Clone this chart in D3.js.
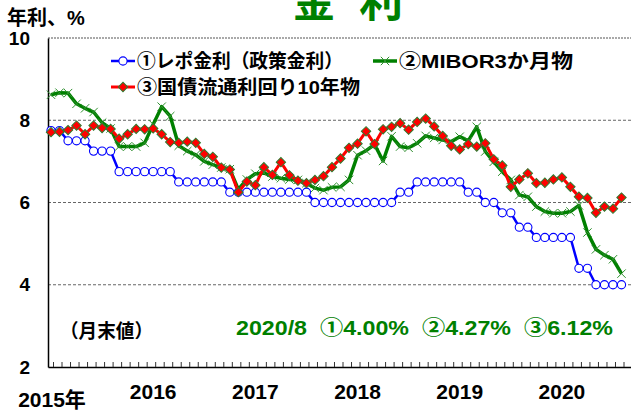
<!DOCTYPE html>
<html><head><meta charset="utf-8">
<script src="https://cdn.jsdelivr.net/npm/d3@7"></script>
<style>
html,body{margin:0;padding:0;background:#fff;overflow:hidden}
svg{display:block}
text{font-family:"Liberation Sans","Noto Sans CJK JP",sans-serif;font-weight:bold}
</style></head>
<body>
<script>
// ---- data ----
const years = ["2015年","2016","2017","2018","2019","2020"];
const yTicks = [2,4,6,8,10];
const months = d3.range(68).map(i => `${2015 + Math.floor(i/12)}/${i%12+1}`);
const repo = [7.75,7.75,7.50,7.50,7.50,7.25,7.25,7.25,6.75,6.75,6.75,6.75,
6.75,6.75,6.75,6.50,6.50,6.50,6.50,6.50,6.50,6.25,6.25,6.25,
6.25,6.25,6.25,6.25,6.25,6.25,6.25,6.00,6.00,6.00,6.00,6.00,
6.00,6.00,6.00,6.00,6.00,6.25,6.25,6.50,6.50,6.50,6.50,6.50,
6.50,6.25,6.25,6.00,6.00,5.75,5.75,5.40,5.40,5.15,5.15,5.15,
5.15,5.15,4.40,4.40,4.00,4.00,4.00,4.00];
const mibor = [8.62,8.67,8.66,8.40,8.29,8.20,7.94,7.80,7.36,7.36,7.36,7.45,
7.90,8.33,8.10,7.38,7.25,7.16,7.00,6.92,6.85,6.81,6.32,6.56,
6.70,6.72,6.63,6.59,6.56,6.55,6.47,6.35,6.30,6.37,6.38,6.55,
7.15,7.26,7.41,7.01,7.61,7.36,7.33,7.44,7.62,7.57,7.52,7.48,
7.60,7.50,7.84,7.24,6.99,6.75,6.55,6.18,6.14,5.90,5.78,5.74,
5.74,5.78,5.93,5.27,4.86,4.72,4.62,4.27];
const gsec = [7.71,7.72,7.76,7.87,7.66,7.87,7.81,7.79,7.55,7.66,7.79,7.78,
7.80,7.66,7.47,7.45,7.48,7.45,7.18,7.11,6.85,6.80,6.25,6.51,
6.42,6.86,6.67,6.98,6.66,6.53,6.47,6.55,6.64,6.86,7.07,7.33,
7.43,7.73,7.42,7.78,7.84,7.93,7.77,7.96,8.04,7.85,7.62,7.38,
7.29,7.42,7.36,7.44,7.05,6.90,6.38,6.56,6.71,6.47,6.48,6.56,
6.61,6.38,6.14,6.11,5.75,5.90,5.85,6.12];
const legendLabels = ["①レポ金利（政策金利）","②MIBOR3か月物","③国債流通利回り10年物"];
const noteLeft = "（月末値）";
const noteRight = "2020/8  ①4.00%  ②4.27%  ③6.12%";

// ---- layout ----
const W = 631, H = 412;
const svg = d3.select("body").append("svg").attr("width", W).attr("height", H);
const x = d3.scaleLinear().domain([0, months.length - 1]).range([51, 621.5]);
const y = d3.scaleLinear().domain([2, 10]).range([367, 38]);
const left = 48, right = 631;
const GREEN = "#008000";

// gridlines
svg.append("g").selectAll("line").data([4,6,8]).join("line")
  .attr("x1", left).attr("x2", right).attr("y1", d => y(d)).attr("y2", d => y(d))
  .attr("stroke", "#666").attr("stroke-width", 1).attr("stroke-dasharray", "3,2");
// top border dotted
svg.append("line").attr("x1", left).attr("x2", right).attr("y1", y(10)).attr("y2", y(10))
  .attr("stroke", "#555").attr("stroke-width", 1.2).attr("stroke-dasharray", "2,1");

// y axis
const yAxis = svg.append("g").attr("transform", `translate(${left},0)`)
  .call(d3.axisLeft(y).tickValues(yTicks).tickSize(0).tickPadding(18));
yAxis.select(".domain").attr("stroke", "#000").attr("stroke-width", 1.5);
yAxis.selectAll("text").attr("font-size", 19).attr("fill", "#000")
  .style("font-family", '"Liberation Sans",sans-serif').style("font-weight", "bold");

// x axis (monthly minor ticks)
const xAxis = svg.append("g").attr("transform", `translate(0,${y(2)})`)
  .call(d3.axisBottom(d3.scaleLinear().domain([0,1]).range([left, right])).tickValues([]).tickSizeOuter(0));
xAxis.select(".domain").attr("stroke", "#000").attr("stroke-width", 1.5);
svg.append("g").selectAll("line").data(months).join("line")
  .attr("x1", (d,i) => x(i) + 2.5).attr("x2", (d,i) => x(i) + 2.5)
  .attr("y1", y(2)).attr("y2", y(2) - 5).attr("stroke", "#333").attr("stroke-width", 1);

// year labels
svg.append("g").selectAll("text").data(years).join("text")
  .attr("x", (d,i) => x(i*12) + (i === 0 ? 1 : 0))
  .attr("y", (d,i) => i === 0 ? 407 : 399)
  .attr("text-anchor", "middle").attr("font-size", 21).attr("fill", "#000").text(d => d);

// unit label
svg.append("text").attr("x", 7).attr("y", 25).attr("font-size", 20).attr("fill", "#000").text("年利、%");

// title
svg.append("text").attr("x", 314).attr("y", 17).attr("text-anchor", "middle")
  .attr("font-size", 44).attr("fill", GREEN).style("font-family", '"Noto Sans CJK JP"').text("金");
svg.append("text").attr("x", 381).attr("y", 17).attr("text-anchor", "middle")
  .attr("font-size", 44).attr("fill", GREEN).style("font-family", '"Noto Sans CJK JP"').text("利");

// ---- series ----
const line = d3.line().x((d,i) => x(i)).y(d => y(d));

// repo (blue)
svg.append("path").datum(repo).attr("d", line).attr("fill", "none")
  .attr("stroke", "#0000ff").attr("stroke-width", 2.5);
svg.append("g").selectAll("circle").data(repo).join("circle")
  .attr("cx", (d,i) => x(i)).attr("cy", d => y(d)).attr("r", 4.1)
  .attr("fill", "#fff").attr("stroke", "#0000ff").attr("stroke-width", 1.1);

// mibor (green)
svg.append("path").datum(mibor).attr("d", line).attr("fill", "none")
  .attr("stroke", GREEN).attr("stroke-width", 3.5).attr("stroke-linejoin", "round");
const xMark = (cx, cy, s) => `M${cx-s},${cy-s}L${cx+s},${cy+s}M${cx-s},${cy+s}L${cx+s},${cy-s}`;
svg.append("g").selectAll("path").data(mibor).join("path")
  .attr("d", (d,i) => xMark(x(i), y(d), 4.2))
  .attr("stroke", "#2f8f2f").attr("stroke-width", 1).attr("fill", "none");

// gsec (red)
svg.append("path").datum(gsec).attr("d", line).attr("fill", "none")
  .attr("stroke", "#ff0000").attr("stroke-width", 3);
svg.append("g").selectAll("path").data(gsec).join("path")
  .attr("d", d3.symbol().type(d3.symbolSquare).size(44)())
  .attr("transform", (d,i) => `translate(${x(i)},${y(d)}) rotate(45)`)
  .attr("fill", "#ff0000").attr("stroke", "#2e7d32").attr("stroke-width", 1);

// ---- legend ----
const lg = svg.append("g");
// row 1 blue
lg.append("line").attr("x1", 111).attr("x2", 135).attr("y1", 61).attr("y2", 61).attr("stroke", "#0000ff").attr("stroke-width", 2.5);
lg.append("circle").attr("cx", 123).attr("cy", 61).attr("r", 4.1).attr("fill", "#fff").attr("stroke", "#0000ff").attr("stroke-width", 1.1);
lg.append("text").attr("x", 137).attr("y", 68).attr("font-size", 19).attr("fill", "#000")
  .attr("textLength", 206).attr("lengthAdjust", "spacingAndGlyphs").text(legendLabels[0]);
// row 1 green
lg.append("line").attr("x1", 373).attr("x2", 397).attr("y1", 61).attr("y2", 61).attr("stroke", GREEN).attr("stroke-width", 3.5);
lg.append("path").attr("d", xMark(385, 61, 4.2)).attr("stroke", "#2f8f2f").attr("stroke-width", 1);
lg.append("text").attr("x", 399).attr("y", 68).attr("font-size", 19).attr("fill", "#000")
  .attr("textLength", 174).attr("lengthAdjust", "spacingAndGlyphs").text(legendLabels[1]);
// row 2 red
lg.append("line").attr("x1", 111).attr("x2", 135).attr("y1", 87).attr("y2", 87).attr("stroke", "#ff0000").attr("stroke-width", 3);
lg.append("path").attr("d", d3.symbol().type(d3.symbolSquare).size(44)()).attr("transform", "translate(123,87) rotate(45)")
  .attr("fill", "#ff0000").attr("stroke", "#2e7d32").attr("stroke-width", 1);
lg.append("text").attr("x", 137).attr("y", 94).attr("font-size", 19).attr("fill", "#000")
  .attr("textLength", 223).attr("lengthAdjust", "spacingAndGlyphs").text(legendLabels[2]);

// ---- notes ----
svg.append("text").attr("x", 60).attr("y", 338).attr("font-size", 19).attr("fill", "#000")
  .attr("textLength", 93).attr("lengthAdjust", "spacingAndGlyphs").text(noteLeft);
svg.append("text").attr("x", 236).attr("y", 335).attr("font-size", 20).attr("fill", GREEN)
  .attr("textLength", 377).attr("lengthAdjust", "spacingAndGlyphs").style("white-space", "pre").text(noteRight);
</script>
</body></html>
